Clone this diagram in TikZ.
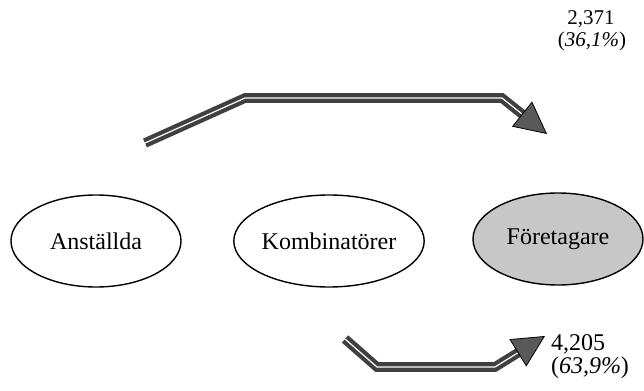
\documentclass[tikz,border=0pt]{standalone}
\usepackage{fontspec}
\setmainfont{Liberation Serif}
\usetikzlibrary{shapes.geometric,arrows.meta,calc}

\begin{document}
\begin{tikzpicture}[x=0.5pt,y=-0.5pt,
  group/.style={ellipse,draw,line width=0.7pt,minimum width=85pt,minimum height=46pt,inner sep=0pt,font=\fontsize{12}{14}\selectfont},
  flowline/.style={draw=black!75,line width=2.1pt,double=white,double distance=0.6pt},
  flowhead/.style={draw=black,line width=0.4pt,-{Triangle[length=16pt,width=16pt,fill=black!65]}},
  share/.style={inner sep=0pt}]

\useasboundingbox (0,0) rectangle (644,391);

\node[group] (A_1) at (96,241) {Anställda};
\node[group] (A_2) at (329,241) {Kombinatörer};
\node[group,fill=black!22] (A_3) at (558,239) {Företagare};

% upper flow
\coordinate (U_1) at (145,143);
\coordinate (U_2) at (245,98);
\coordinate (U_3) at (502,98);
\coordinate (U_4) at (547,134);
\draw[flowline] (U_1) -- (U_2) -- (U_3) -- ($(U_4)!13pt!(U_3)$);
\draw[flowhead] ($(U_4)!16pt!(U_3)$) -- (U_4);
\node[share,font=\fontsize{10.5}{12}\selectfont] (T_1) at (591,19) {2,371};
\node[share,font=\fontsize{10.5}{12}\selectfont] (T_2) at (592,41) {(\textit{36,1\%})};

% lower flow
\coordinate (L_1) at (345,339);
\coordinate (L_2) at (377,367);
\coordinate (L_3) at (495,367);
\coordinate (L_4) at (545,336);
\draw[flowline] (L_1) -- (L_2) -- (L_3) -- ($(L_4)!13pt!(L_3)$);
\draw[flowhead] ($(L_4)!16pt!(L_3)$) -- (L_4);
\node[share,font=\fontsize{12}{14}\selectfont] (T_3) at (578,344) {4,205};
\node[share,font=\fontsize{12}{14}\selectfont] (T_4) at (590,368) {(\textit{63,9\%})};

\end{tikzpicture}
\end{document}
